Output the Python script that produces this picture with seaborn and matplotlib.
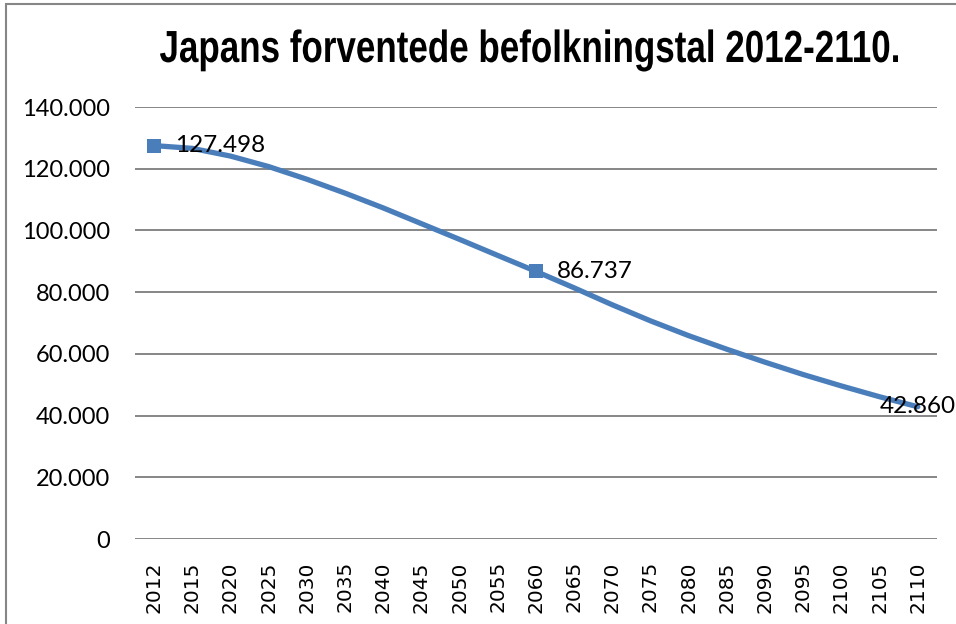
import numpy as np
import pandas as pd
import matplotlib
matplotlib.use("Agg")
import matplotlib.pyplot as plt
from matplotlib.patches import Rectangle, PathPatch
from matplotlib.textpath import TextPath
from matplotlib.font_manager import FontProperties
from matplotlib.transforms import Affine2D, IdentityTransform
import seaborn as sns

# data (tusinder personer)
years = ["2012", "2015", "2020", "2025", "2030", "2035", "2040", "2045", "2050", "2055",
         "2060", "2065", "2070", "2075", "2080", "2085", "2090", "2095", "2100", "2105", "2110"]
befolkning = [127498, 126600, 124100, 120700, 116600, 112100, 107300, 102200, 97100, 91900,
              86737, 81400, 75900, 70700, 65900, 61500, 57300, 53300, 49600, 46100, 42860]
labelled = ["2012", "2060", "2110"]
marked = ["2012", "2060"]
title = "Japans forventede befolkningstal 2012-2110."

df = pd.DataFrame({"aar": years, "befolkning": befolkning})
df["pos"] = np.arange(len(df))

sns.set_style("white")
plt.rcParams["font.family"] = ["Lato", "DejaVu Sans"]
plt.rcParams["text.color"] = "black"
plt.rcParams["xtick.color"] = "black"
plt.rcParams["ytick.color"] = "black"

blue = "#4A7EBB"
grey = "#868686"

W, H, dpi = 956, 624, 100
fig = plt.figure(figsize=(W / dpi, H / dpi), dpi=dpi)
ax = fig.add_axes([0.1412, 0.1362, 0.8388, 0.6923])

sns.lineplot(data=df, x="pos", y="befolkning", ax=ax, color=blue, linewidth=3.8, zorder=3)
mk = df[df["aar"].isin(marked)]
ax.scatter(mk["pos"], mk["befolkning"], marker="s", s=100, color=blue, zorder=4, linewidths=0)

for _, r in df[df["aar"].isin(labelled)].iterrows():
    txt = f"{r['befolkning']:,}".replace(",", ".")
    dx = -38 if r["aar"] == "2110" else 21
    ax.annotate(txt, (r["pos"], r["befolkning"]), xytext=(dx, 0), textcoords="offset pixels",
                ha="left", va="center", fontsize=17.5, color="black", zorder=5,
                annotation_clip=False)

ax.set_xlim(-0.5, len(years) - 0.5)
ax.set_ylim(0, 140000)
yt = np.arange(0, 140001, 20000)
ax.set_yticks(yt)
ax.set_yticklabels(["0" if v == 0 else f"{v:,}".replace(",", ".") for v in yt], fontsize=17)
ax.set_xticks(df["pos"])
ax.set_xticklabels(years, rotation=90, fontsize=14.5)
for lbl in ax.get_xticklabels():
    lbl.set_fontfamily("DejaVu Sans")
ax.tick_params(axis="y", length=0, pad=18)
ax.tick_params(axis="x", length=0, pad=16)
ax.grid(axis="y", color=grey, linewidth=1.4)
ax.grid(axis="x", visible=False)
for s in ax.spines.values():
    s.set_visible(False)
ax.set_xlabel("")
ax.set_ylabel("")

# condensed bold title (squeezed horizontally)
fp = FontProperties(family="Liberation Sans", weight="bold")
tp = TextPath((0, 0), title, size=45, prop=fp)
ext = tp.get_extents()
target_w = 738
sx = target_w / ext.width
cx = 529
x0 = cx - (ext.x0 + ext.width / 2) * sx
base = H - 62
tr = Affine2D().scale(sx, 1.0).translate(x0, base)
fig.patches.append(PathPatch(tr.transform_path(tp), transform=IdentityTransform(),
                             facecolor="black", edgecolor="none"))

fig.patches.append(Rectangle((6 / W, -0.1), 1.2, 1.1 - 4 / H, transform=fig.transFigure,
                             fill=False, edgecolor=grey, linewidth=1.5))

fig.savefig("out.png", dpi=dpi)
